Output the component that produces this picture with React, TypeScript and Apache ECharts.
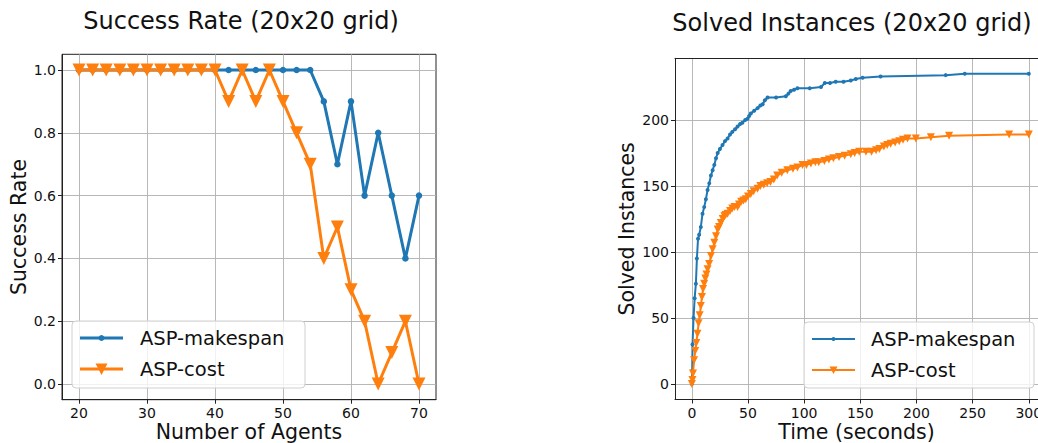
import React, { useEffect, useRef } from "react";
import * as echarts from "echarts";

const agents = [20, 22, 24, 26, 28, 30, 32, 34, 36, 38, 40, 42, 44, 46, 48, 50, 52, 54, 56, 58, 60, 62, 64, 66, 68, 70];
const successMakespan = [1, 1, 1, 1, 1, 1, 1, 1, 1, 1, 1, 1, 1, 1, 1, 1, 1, 1, 0.9, 0.7, 0.9, 0.6, 0.8, 0.6, 0.4, 0.6];
const successCost = [1, 1, 1, 1, 1, 1, 1, 1, 1, 1, 1, 0.9, 1, 0.9, 1, 0.9, 0.8, 0.7, 0.4, 0.5, 0.3, 0.2, 0, 0.1, 0.2, 0];

const makespanTime = [0, 0.3, 0.6, 1.5, 2.5, 3.6, 4.5, 5.5, 6.5, 8, 9.5, 11, 12.5, 14, 15.5, 17, 18.5, 20, 21.5, 23, 25, 27.3, 29.5, 31.8, 34, 36, 38.5, 40.7, 43, 45, 47.5, 49.6, 51, 52.5, 55.5, 58.5, 61, 63, 65, 67.4, 75, 83.7, 86, 88, 91, 94, 105, 115, 118.4, 123, 128, 135, 141.5, 146, 152, 168, 226, 243, 300];
const makespanSolved = [0, 10, 30, 50, 65, 76, 95, 110, 113, 119, 129, 134, 140, 147, 152, 158, 162, 166, 171, 175, 178, 181, 184, 186, 189, 191, 193, 195, 197, 198, 200, 201, 203, 205, 207, 209, 211, 212, 215, 217, 217, 218, 220, 222, 223, 224, 224, 225, 228, 228, 229, 229, 230, 231, 232, 233, 234, 235, 235];

const costTime = [0, 0.5, 1, 2, 3, 4, 5, 6, 7, 8, 9, 10, 11, 12, 13, 14, 15.4, 17, 18.5, 20, 21.5, 23, 24.3, 25.8, 27.5, 29, 30, 31.8, 34, 36, 38, 40.7, 42, 44, 46, 48, 50, 52.5, 55, 58.5, 61, 64, 67, 70, 73, 76, 80, 85, 90, 94, 98.5, 102, 106, 110, 113, 118, 122, 126, 131, 136, 141.5, 145, 149, 155, 160, 164, 167, 171, 174, 177, 181, 184.6, 188, 192, 199.4, 212.8, 229, 282.5, 300];
const costSolved = [0, 3, 8, 18, 25, 31, 38, 46, 52, 59, 66, 72, 76, 80, 83, 87, 91, 97, 102, 107, 112, 117, 119, 122, 125, 127, 128, 129, 131, 133, 134, 134, 136, 138, 139, 140, 142, 144, 146, 148, 150, 151, 152, 153, 155, 158, 160, 162, 163, 164, 166, 166, 167, 168, 168, 169, 170, 171, 172, 173, 174, 175, 176, 176, 176, 177, 178, 180, 181, 182, 183, 184, 185, 186, 186, 187, 188, 189, 189];

const agentTicks = [20, 30, 40, 50, 60, 70];
const rateTicks = [0, 0.2, 0.4, 0.6, 0.8, 1.0];
const timeTicks = [0, 50, 100, 150, 200, 250, 300];
const solvedTicks = [0, 50, 100, 150, 200];

const BLUE = "#1f77b4";
const ORANGE = "#ff7f0e";
const FONT = "DejaVu Sans";

function axisCommon(ticks: number[], fmt?: (v: number) => string) {
  return {
    nameMoveOverlap: false,
    axisLine: { show: true, onZero: false, lineStyle: { color: "#222", width: 1 } },
    axisTick: { show: true, customValues: ticks, length: 4, lineStyle: { color: "#222", width: 1 } },
    axisLabel: {
      customValues: ticks,
      color: "#111",
      fontFamily: FONT,
      fontSize: 14,
      margin: 6,
      formatter: fmt ? (v: number) => fmt(v) : (v: number) => String(v),
    },
    splitLine: { show: true, lineStyle: { color: "#b0b0b0", width: 0.9 } },
    nameTextStyle: { color: "#111", fontFamily: FONT, fontSize: 20.5 },
  };
}

function borderAxis(gridIndex: number, position: string) {
  return {
    type: "value",
    gridIndex,
    position,
    axisLine: { show: true, onZero: false, lineStyle: { color: "#222", width: 1 } },
    axisTick: { show: false },
    axisLabel: { show: false },
    splitLine: { show: false },
  };
}

function legendGraphic(x: number, y: number, w: number, h: number, textX: number, lw: number, dotR: number, tri: number) {
  const iconL = x + 8;
  const iconR = x + 51;
  const mid = (iconL + iconR) / 2;
  const r1 = y + 17;
  const r2 = y + 48;
  return [
    {
      type: "rect",
      shape: { x, y, width: w, height: h, r: 4 },
      style: { fill: "rgba(255,255,255,0.8)", stroke: "#d0d0d0", lineWidth: 1 },
      z: 100,
    },
    { type: "line", shape: { x1: iconL, y1: r1, x2: iconR, y2: r1 }, style: { stroke: BLUE, lineWidth: lw }, z: 101 },
    { type: "circle", shape: { cx: mid, cy: r1, r: dotR }, style: { fill: BLUE }, z: 102 },
    {
      type: "text",
      x: textX,
      y: r1,
      style: { text: "ASP-makespan", fill: "#111", font: `19.5px '${FONT}'`, verticalAlign: "middle", align: "left" },
      z: 102,
    },
    { type: "line", shape: { x1: iconL, y1: r2, x2: iconR, y2: r2 }, style: { stroke: ORANGE, lineWidth: lw }, z: 101 },
    {
      type: "polygon",
      shape: { points: [[mid - tri / 2, r2 - tri * 0.45], [mid + tri / 2, r2 - tri * 0.45], [mid, r2 + tri * 0.5]] },
      style: { fill: ORANGE },
      z: 102,
    },
    {
      type: "text",
      x: textX,
      y: r2,
      style: { text: "ASP-cost", fill: "#111", font: `19.5px '${FONT}'`, verticalAlign: "middle", align: "left" },
      z: 102,
    },
  ];
}

export default function App() {
  const ref = useRef<HTMLDivElement>(null);
  useEffect(() => {
    if (!ref.current) return;
    const chart = echarts.init(ref.current, undefined, { renderer: "svg" });
    const option: any = {
      animation: false,
      backgroundColor: "#ffffff",
      textStyle: { fontFamily: FONT },
      grid: [
        {
          left: 62, top: 54.3, width: 374, height: 345.4, show: true, borderColor: "#222", borderWidth: 1,
          containLabel: false, outerBoundsMode: "none",
        },
        { left: 675, top: 58.3, right: 0, height: 341.2, show: false, containLabel: false, outerBoundsMode: "none" },
      ],
      xAxis: [
        {
          type: "value",
          gridIndex: 0,
          min: 17.5,
          max: 72.5,
          name: "Number of Agents",
          nameLocation: "middle",
          nameGap: 22,
          ...axisCommon(agentTicks),
        },
        {
          type: "value",
          gridIndex: 1,
          position: "bottom",
          min: -15,
          max: 308.2,
          name: "Time (seconds)",
          nameLocation: "middle",
          nameGap: 22,
          ...axisCommon(timeTicks),
        },
        { ...borderAxis(1, "top"), min: -15, max: 308.2 },
      ],
      yAxis: [
        {
          type: "value",
          gridIndex: 0,
          min: -0.05,
          max: 1.05,
          name: "Success Rate",
          nameLocation: "middle",
          nameGap: 33,
          ...axisCommon(rateTicks, (v) => v.toFixed(1)),
        },
        {
          type: "value",
          gridIndex: 1,
          position: "left",
          min: -11.75,
          max: 246.75,
          name: "Solved Instances",
          nameLocation: "middle",
          nameGap: 38,
          ...axisCommon(solvedTicks),
        },
      ],
      series: [
        {
          name: "ASP-makespan",
          type: "line",
          xAxisIndex: 0,
          yAxisIndex: 0,
          data: agents.map((a, i) => [a, successMakespan[i]]),
          symbol: "circle",
          symbolSize: 6.5,
          showAllSymbol: true,
          lineStyle: { color: BLUE, width: 3 },
          itemStyle: { color: BLUE },
          z: 3,
        },
        {
          name: "ASP-cost",
          type: "line",
          xAxisIndex: 0,
          yAxisIndex: 0,
          data: agents.map((a, i) => [a, successCost[i]]),
          symbol: "triangle",
          symbolRotate: 180,
          symbolSize: 13,
          showAllSymbol: true,
          lineStyle: { color: ORANGE, width: 3 },
          itemStyle: { color: ORANGE },
          z: 4,
        },
        {
          name: "ASP-makespan",
          type: "line",
          xAxisIndex: 1,
          yAxisIndex: 1,
          data: makespanTime.map((t, i) => [t, makespanSolved[i]]),
          symbol: "circle",
          symbolSize: 4,
          showAllSymbol: true,
          lineStyle: { color: BLUE, width: 2 },
          itemStyle: { color: BLUE },
          z: 3,
        },
        {
          name: "ASP-cost",
          type: "line",
          xAxisIndex: 1,
          yAxisIndex: 1,
          data: costTime.map((t, i) => [t, costSolved[i]]),
          symbol: "triangle",
          symbolRotate: 180,
          symbolSize: 8,
          showAllSymbol: true,
          lineStyle: { color: ORANGE, width: 2 },
          itemStyle: { color: ORANGE },
          z: 4,
        },
      ],
      graphic: [
        {
          type: "text",
          x: 241,
          y: 21,
          style: { text: "Success Rate (20x20 grid)", fill: "#111", font: `24px '${FONT}'`, align: "center", verticalAlign: "middle" },
        },
        {
          type: "text",
          x: 852,
          y: 23,
          style: { text: "Solved Instances (20x20 grid)", fill: "#111", font: `24px '${FONT}'`, align: "center", verticalAlign: "middle" },
        },
        ...legendGraphic(72, 321, 233, 67, 140, 3, 3, 12),
        ...legendGraphic(804, 322, 230, 66, 871, 2.2, 2, 8),
      ],
    };
    chart.setOption(option);
    return () => chart.dispose();
  }, []);
  return <div ref={ref} style={{ position: "fixed", left: 0, top: 0, width: 1038, height: 443 }} />;
}
